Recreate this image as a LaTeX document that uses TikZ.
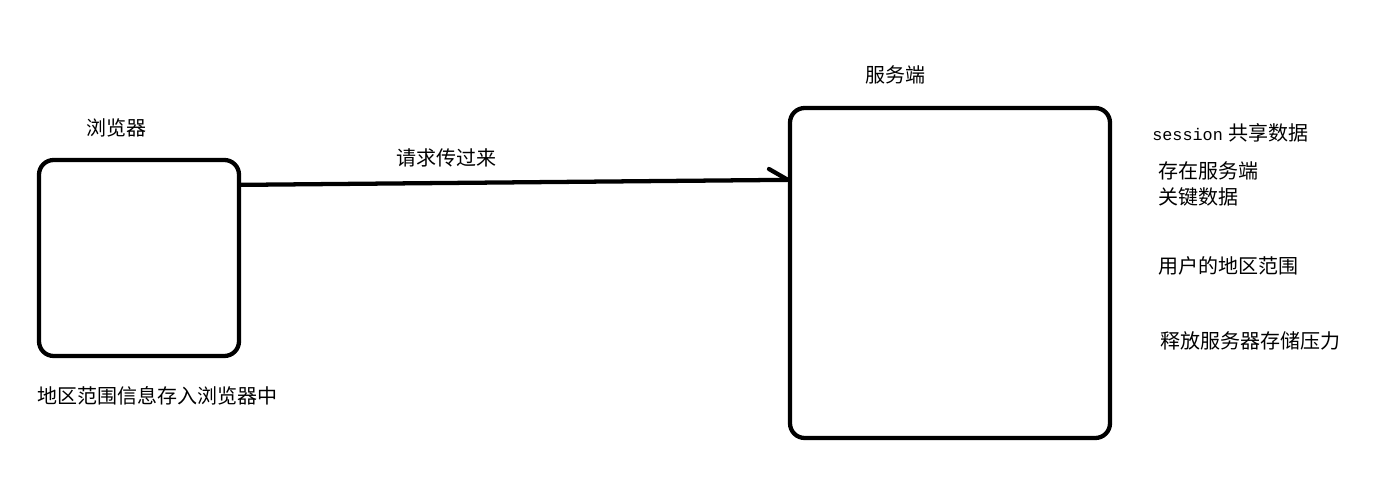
\documentclass[tikz,border=0pt]{standalone}
\usepackage{fontspec}
\newfontfamily\cjk{Noto Sans CJK SC}
\newfontfamily\monof{Liberation Mono}
\begin{document}
\begin{tikzpicture}[x=0.75pt,y=-0.75pt,
  box/.style={draw, line width=3.2pt, rounded corners=11pt, inner sep=0pt},
  lbl/.style={inner sep=0pt, font=\cjk\fontsize{15pt}{18pt}\selectfont},
  conn/.style={line width=3.2pt, line cap=round}]
\useasboundingbox (0,0) rectangle (1397,491);
\node[box, minimum width=150pt, minimum height=147pt] (a) at (139,258) {};
\node[box, minimum width=240pt, minimum height=247.5pt] (b) at (950,273) {};
\coordinate (s) at ([yshift=-20.25pt]a.north east);
\coordinate (e) at ([yshift=-55.5pt]b.north west);
\coordinate (barb) at (769,169);
\draw[conn] (s) -- (e);
\draw[conn] (e) -- (barb);
\node[lbl] (t1) at (116,128) {浏览器};
\node[lbl] (t2) at (446,158) {请求传过来};
\node[lbl] (t3) at (895,75) {服务端};
\node[lbl, anchor=west] (t4) at (1152,133) {{\monof\fontsize{12.6pt}{14pt}\selectfont session}\hspace{4.5pt}共享数据};
\node[lbl, anchor=west] (t5) at (1158,171) {存在服务端};
\node[lbl, anchor=west] (t6) at (1158,197) {关键数据};
\node[lbl, anchor=west] (t7) at (1158,266) {用户的地区范围};
\node[lbl, anchor=west] (t8) at (1160,341) {释放服务器存储压力};
\node[lbl, anchor=west] (t9) at (37,396) {地区范围信息存入浏览器中};
\end{tikzpicture}
\end{document}
